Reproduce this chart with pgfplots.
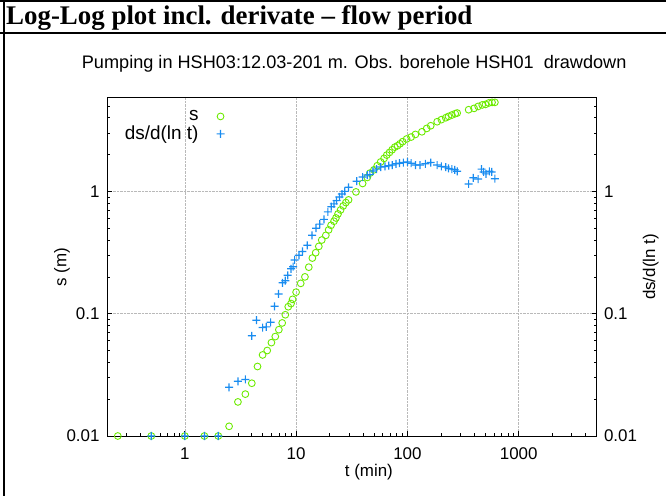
\documentclass[border=0pt]{standalone}
\usepackage{fontspec}
\setmainfont{Liberation Sans}
\newfontfamily\titlefont{Liberation Serif}
\usepackage{pgfplots}
\usepackage{pgfplotstable}
\pgfplotsset{compat=1.18}

\definecolor{sgreen}{RGB}{108,235,0}
\definecolor{dblue}{RGB}{25,140,240}

% plus sign built from two filled bars
\pgfdeclareplotmark{barplus}{%
  \pgfpathrectangle{\pgfpoint{-\pgfplotmarksize}{-0.6bp}}{\pgfpoint{2\pgfplotmarksize}{1.2bp}}%
  \pgfpathrectangle{\pgfpoint{-0.6bp}{-\pgfplotmarksize}}{\pgfpoint{1.2bp}{2\pgfplotmarksize}}%
  \pgfusepathqfill}

% drawdown s (m) against time (min)
\pgfplotstableread{
t s
0.25 0.01
0.5 0.01
1 0.01
1.5 0.01
2 0.01
2.5 0.012
3 0.019
3.5 0.022
4 0.027
4.5 0.037
5 0.046
5.5 0.05
6 0.058
6.5 0.065
7 0.074
7.5 0.084
8 0.098
8.5 0.114
9 0.121
9.3 0.131
10 0.15
11 0.177
12 0.2
13 0.24
14 0.285
15 0.315
16 0.355
17 0.40
18.5 0.437
19.6 0.484
20.6 0.528
21.9 0.57
22.8 0.606
23.8 0.654
25.1 0.705
26.5 0.76
28 0.81
29.6 0.852
34.5 0.99
39.6 1.16
43.6 1.3
46.1 1.41
50 1.5
53.6 1.62
57.5 1.74
61.7 1.86
65.2 1.98
69 2.08
73 2.19
77 2.3
81.5 2.36
85.8 2.45
90.6 2.55
98.4 2.68
108 2.78
118 2.92
135 3.07
149 3.27
162 3.44
185 3.71
202 3.86
221 4.0
234 4.1
251 4.21
269 4.32
280 4.37
355 4.65
397 4.77
432 4.95
470 5.09
503 5.14
538 5.28
576 5.34
611 5.34
}\sdata

% derivative ds/d(ln t)
\pgfplotstableread{
t d
0.5 0.01
1 0.01
1.5 0.01
2 0.01
2.5 0.025
3 0.028
3.5 0.029
4 0.066
4.4 0.0885
5 0.077
5.4 0.078
5.9 0.085
6.4 0.115
6.95 0.145
7.56 0.179
8 0.186
8.4 0.206
9 0.233
9.4 0.242
9.7 0.275
10.6 0.30
11.4 0.323
12.6 0.362
13.9 0.437
15.1 0.50
16.3 0.54
17.8 0.59
19.3 0.68
20.7 0.75
21.9 0.79
23.1 0.84
24.5 0.90
25.8 0.95
27.3 1.0
29.6 1.08
35 1.21
39.6 1.31
43.6 1.36
46 1.37
49 1.47
52.7 1.52
57.6 1.58
63 1.60
68 1.62
73 1.64
79 1.68
85 1.70
92 1.72
100 1.74
108 1.70
118 1.64
130 1.64
145 1.68
162 1.72
185 1.64
202 1.60
221 1.58
234 1.54
251 1.52
266 1.50
280 1.46
355 1.15
391 1.29
432 1.26
464 1.52
484 1.44
509 1.39
545 1.46
572 1.44
611 1.27
}\ddata

\begin{document}
\begin{tikzpicture}[x=1bp,y=1bp]
\path[use as bounding box] (0,0) rectangle (666,496);
\draw[line width=2.6bp] (4,0) -- (4,496);
\draw[line width=2bp] (0,495) -- (666,495);
\draw[line width=2bp] (0,463) -- (666,463);
\node[anchor=base west, inner sep=0] at (6,471)
  {\titlefont\bfseries\fontsize{27}{31}\selectfont Log-Log plot incl. derivate – flow period};

\begin{axis}[
  at={(107bp,60bp)}, anchor=south west, scale only axis,
  width=489.5bp, height=338bp,
  xmode=log, ymode=log,
  xmin=0.2, xmax=5000, ymin=0.01, ymax=5.8,
  clip=false,
  xtick={1,10,100,1000}, xticklabels={1,10,100,1000},
  ytick={0.01,0.1,1}, yticklabels={0.01,0.1,1},
  minor xtick={0.3,0.4,0.5,0.6,0.7,0.8,0.9,2,3,4,5,6,7,8,9,20,30,40,50,60,70,80,90,200,300,400,500,600,700,800,900,2000,3000,4000},
  minor ytick={0.02,0.03,0.04,0.05,0.06,0.07,0.08,0.09,0.2,0.3,0.4,0.5,0.6,0.7,0.8,0.9,2,3,4,5},
  xtick pos=bottom, ytick pos=left,
  tick align=inside,
  major tick length=5bp, minor tick length=3bp,
  every tick/.style={black, line width=0.7bp},
  axis line style={black, line width=1bp},
  xmajorgrids, ymajorgrids,
  major grid style={densely dotted, gray!55, line width=0.6bp},
  ticklabel style={font=\fontsize{17}{20}\selectfont},
  xticklabel style={yshift=-8bp},
  yticklabel style={anchor=east, xshift=-4bp},
  label style={font=\fontsize{17}{20}\selectfont},
  xlabel={t (min)},
  xlabel style={at={(axis description cs:0.535,-0.1065)}, anchor=center},
  ylabel={s (m)},
  ylabel style={at={(axis description cs:-0.092,0.5)}, anchor=center},
  title={Pumping in HSH03:12.03-201 m. Obs. borehole HSH01\ \ drawdown},
  title style={at={(axis description cs:0.505,1.083)}, anchor=center, font=\fontsize{18.2}{21}\selectfont},
  legend plot pos=right,
  legend cell align=right,
  legend style={at={(axis description cs:0.026,0.975)}, anchor=north west,
    draw=none, fill=none, font=\fontsize{19}{22}\selectfont, row sep=0bp, column sep=16bp},
]
\addplot[only marks, color=sgreen, mark=o, mark size=3.4bp,
  mark options={draw=sgreen, line width=0.9bp}] table[x=t, y=s] {\sdata};
\addlegendentry{s}
\addplot[only marks, color=dblue, mark=barplus, mark size=4bp,
  mark options={fill=dblue, draw=none}] table[x=t, y=d] {\ddata};
\addlegendentry{ds/d(ln t)}
\end{axis}

\begin{axis}[
  at={(107bp,60bp)}, anchor=south west, scale only axis,
  width=489.5bp, height=338bp,
  xmode=log, ymode=log,
  xmin=0.2, xmax=5000, ymin=0.01, ymax=5.8,
  axis x line=none, axis y line*=right,
  axis line style={-, black, line width=1bp},
  ytick={0.01,0.1,1}, yticklabels={0.01,0.1,1},
  minor ytick={0.02,0.03,0.04,0.05,0.06,0.07,0.08,0.09,0.2,0.3,0.4,0.5,0.6,0.7,0.8,0.9,2,3,4,5},
  tick align=inside,
  major tick length=5bp, minor tick length=3bp,
  every tick/.style={black, line width=0.7bp},
  ticklabel style={font=\fontsize{17}{20}\selectfont},
  yticklabel style={xshift=4bp},
  ylabel={ds/d(ln t)},
  ylabel style={at={(axis description cs:1.111,0.5)}, anchor=center, font=\fontsize{17}{20}\selectfont},
]
\end{axis}
\end{tikzpicture}
\end{document}
